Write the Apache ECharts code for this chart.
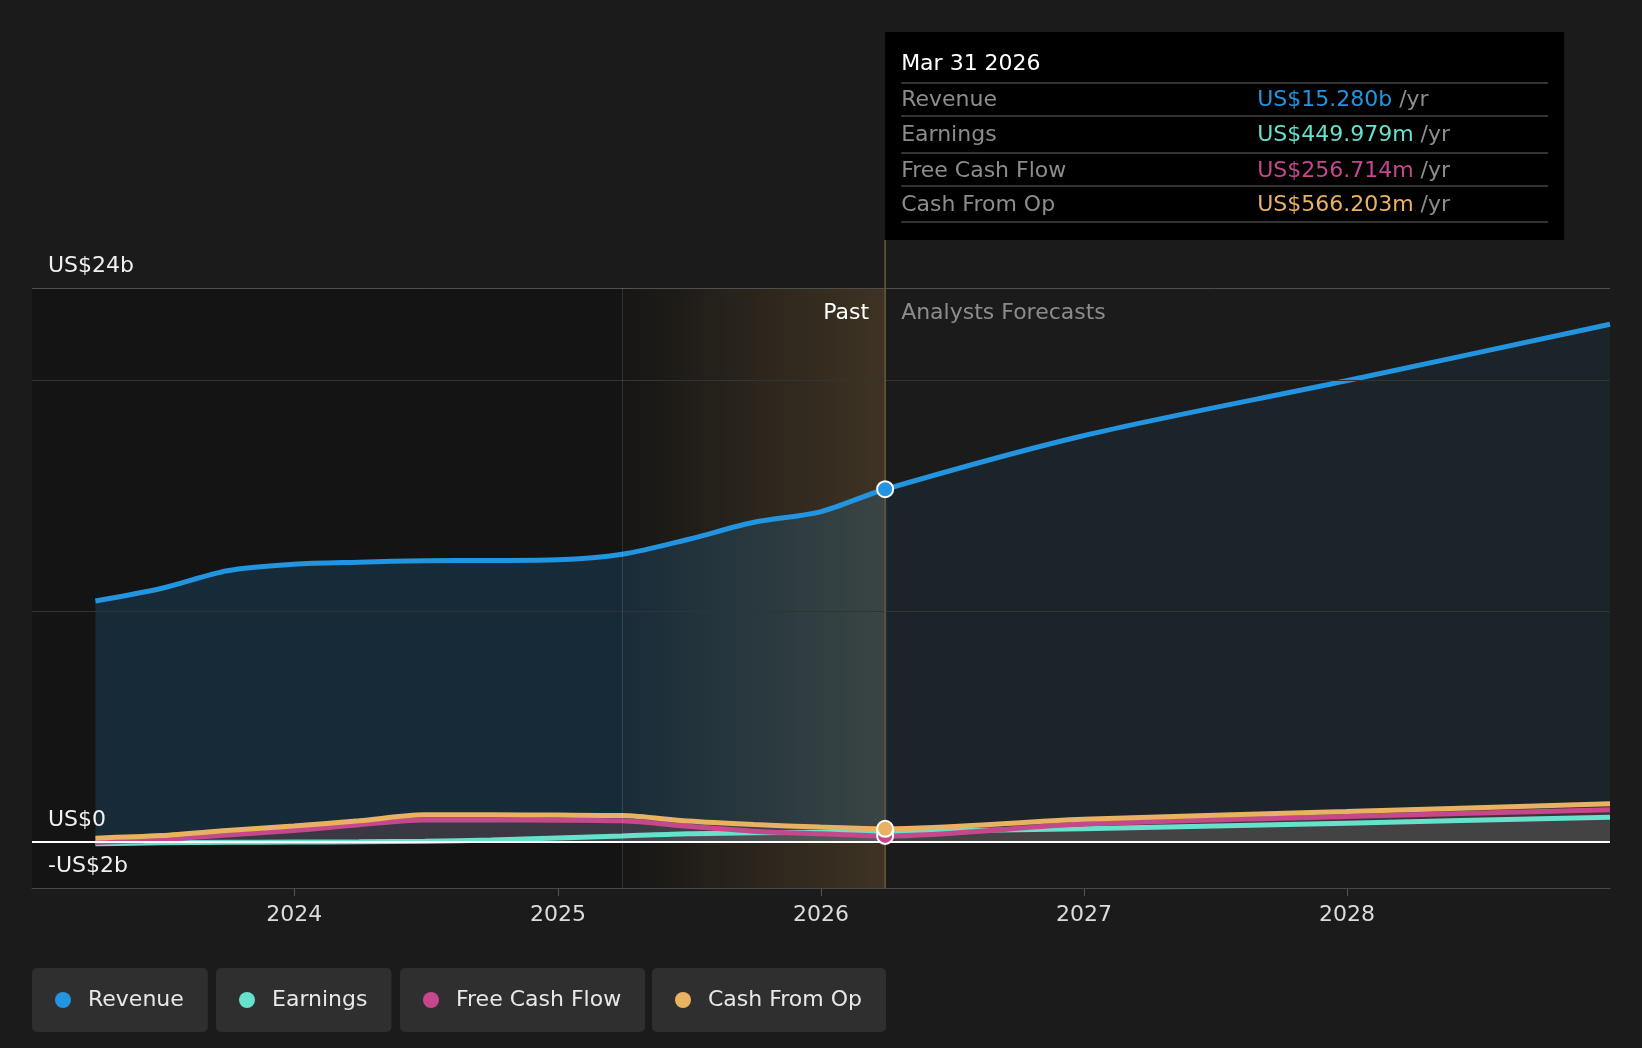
<!DOCTYPE html>
<html>
<head>
<meta charset="utf-8">
<script src="https://cdn.jsdelivr.net/npm/echarts@6/dist/echarts.min.js"></script>
<style>
  html, body { margin: 0; padding: 0; background: #1b1b1b; }
  #chart { width: 1642px; height: 1048px; }
</style>
</head>
<body>
<div id="chart"></div>
<script>
// quarter ends for the past, then yearly analyst forecasts
const dates = [
  '2023-03-31', '2023-06-30', '2023-09-30', '2023-12-31',
  '2024-03-31', '2024-06-30', '2024-09-30', '2024-12-31',
  '2025-03-31', '2025-06-30', '2025-09-30', '2025-12-31',
  '2026-03-31', '2026-12-31', '2027-12-31', '2028-12-31'
]
// values in US$ billions
const revenue = [10.44, 10.98, 11.75, 12.03, 12.12, 12.18, 12.19, 12.22, 12.46, 13.1, 13.85, 14.3, 15.28, 17.6, 19.98, 22.43]
const earnings = [-0.08, -0.04, -0.02, -0.01, 0.0, 0.03, 0.08, 0.17, 0.25, 0.35, 0.39, 0.42, 0.449979, 0.57, 0.81, 1.07]
const freeCashFlow = [-0.03, 0.09, 0.3, 0.49, 0.74, 0.95, 0.95, 0.94, 0.91, 0.68, 0.46, 0.35, 0.256714, 0.77, 1.1, 1.39]
const cashFromOp = [0.16, 0.27, 0.49, 0.69, 0.91, 1.17, 1.17, 1.16, 1.14, 0.9, 0.75, 0.64, 0.566203, 0.98, 1.31, 1.65]

const seriesNames = ['Revenue', 'Earnings', 'Free Cash Flow', 'Cash From Op']
const seriesColors = ['#2394df', '#67e0cc', '#c5488c', '#e9b262']

const yTickValues = [-2, 0, 24]
const yTickLabels = ['-US$2b', 'US$0', 'US$24b']

const lastReported = 12 // index of Mar 31 2026
const bandStart = '2025-03-31'
const axisStart = '2023-01-02'
const axisEnd = '2028-12-31'

const FONT = 'DejaVu Sans'
const MONTHS = ['Jan', 'Feb', 'Mar', 'Apr', 'May', 'Jun', 'Jul', 'Aug', 'Sep', 'Oct', 'Nov', 'Dec']

const ts = d => +new Date(d + 'T00:00:00Z')
const fmtMoney = v => v >= 1 ? 'US$' + v.toFixed(3) + 'b' : 'US$' + (v * 1000).toFixed(3) + 'm'
const fmtDate = d => {
  const [y, m, day] = d.split('-')
  return MONTHS[+m - 1] + ' ' + (+day) + ' ' + y
}

const allValues = [revenue, earnings, freeCashFlow, cashFromOp]
const pairs = arr => arr.map((v, i) => [ts(dates[i]), v])

const chart = echarts.init(document.getElementById('chart'))

// revenue fill is a bit stronger over the reported part
const split = (ts(dates[lastReported]) - ts(dates[0])) / (ts(dates[dates.length - 1]) - ts(dates[0]))
const revenueFill = new echarts.graphic.LinearGradient(0, 0, 1, 0, [
  { offset: 0, color: 'rgba(35,148,223,0.25)' },
  { offset: split, color: 'rgba(35,148,223,0.25)' },
  { offset: Math.min(split + 0.002, 1), color: 'rgba(35,148,223,0.11)' },
  { offset: 1, color: 'rgba(35,148,223,0.11)' }
])

const lineSeries = seriesNames.map((name, i) => ({
  name,
  type: 'line',
  data: pairs(allValues[i]),
  smooth: 0.3,
  symbol: 'none',
  z: 2,
  color: seriesColors[i],
  lineStyle: { width: 5, color: seriesColors[i] },
  areaStyle: i === 0
    ? { color: revenueFill, origin: 0 }
    : { color: echarts.color.modifyAlpha(seriesColors[i], 0.14), origin: 0 }
}))

const dotSeries = seriesNames.map((name, i) => ({
  name: name + ' dot',
  type: 'scatter',
  data: [[ts(dates[lastReported]), allValues[i][lastReported]]],
  symbolSize: 16,
  z: 10,
  silent: true,
  itemStyle: { color: seriesColors[i], borderColor: '#fff', borderWidth: 2, opacity: 1 }
}))

const legendLefts = [32, 216, 400, 652]
const legends = seriesNames.map((name, i) => ({
  data: [name],
  left: legendLefts[i],
  top: 968,
  icon: 'circle',
  itemWidth: 16,
  itemHeight: 16,
  itemGap: 0,
  padding: [21, 24, 21, 23],
  backgroundColor: '#2f2f2f',
  borderRadius: 5,
  selectedMode: false,
  textStyle: { color: '#e8e8e8', fontSize: 22, fontFamily: FONT, padding: [0, 0, 0, 12] }
}))

const splitColors = []
for (let v = -2; v <= 24; v += 2) {
  if (v === -2) splitColors.push('#484848')
  else if (v === 24) splitColors.push('#4f4f4f')
  else if (v === 10 || v === 20) splitColors.push('#333333')
  else splitColors.push('rgba(0,0,0,0)')
}

const option = {
  backgroundColor: '#1b1b1b',
  animation: false,
  textStyle: { fontFamily: FONT },
  grid: { left: 32, right: 32, top: 288, height: 600, containLabel: false },
  legend: legends,
  xAxis: {
    type: 'time',
    min: ts(axisStart),
    max: ts(axisEnd),
    minInterval: 365 * 24 * 3600 * 1000,
    maxInterval: 366 * 24 * 3600 * 1000,
    axisLine: { onZero: false, lineStyle: { color: '#484848', width: 1 } },
    axisTick: { show: true, length: 8, lineStyle: { color: '#555' } },
    splitLine: { show: false },
    axisLabel: {
      formatter: '{yyyy}',
      color: '#dcdcdc',
      fontSize: 22,
      fontFamily: FONT,
      margin: 16,
      showMinLabel: false,
      showMaxLabel: false
    }
  },
  yAxis: {
    type: 'value',
    min: -2,
    max: 24,
    interval: 2,
    z: 3,
    axisLine: { show: false },
    axisTick: { show: false },
    axisLabel: {
      inside: true,
      margin: 16,
      verticalAlign: 'bottom',
      padding: [0, 0, 11, 0],
      color: '#f0f0f0',
      fontSize: 22,
      fontFamily: FONT,
      formatter: v => {
        const k = yTickValues.indexOf(v)
        return k >= 0 ? yTickLabels[k] : ''
      }
    },
    splitLine: { show: true, lineStyle: { color: splitColors, width: 1 } }
  },
  series: [
    {
      // darker backdrop behind the reported period
      name: 'past',
      type: 'line',
      data: [[ts(bandStart), 0]],
      symbol: 'none',
      lineStyle: { width: 0 },
      silent: true,
      z: -1,
      markArea: {
        silent: true,
        itemStyle: { color: 'rgba(0,0,0,0.25)' },
        data: [[{ xAxis: ts(axisStart), yAxis: -2 }, { xAxis: ts(dates[lastReported]), yAxis: 24 }]]
      }
    },
    {
      // zero line, under the series
      name: 'zero',
      type: 'line',
      data: [[ts(bandStart), 0]],
      symbol: 'none',
      lineStyle: { width: 0 },
      silent: true,
      z: 1,
      markLine: {
        silent: true,
        symbol: 'none',
        label: { show: false },
        data: [{ yAxis: 0, lineStyle: { color: '#ffffff', width: 2, type: 'solid' } }]
      }
    },
    ...lineSeries,
    {
      // last reported year highlight
      name: 'band',
      type: 'line',
      data: [[ts(bandStart), 0]],
      symbol: 'none',
      lineStyle: { width: 0 },
      silent: true,
      z: 5,
      markArea: {
        silent: true,
        itemStyle: {
          color: new echarts.graphic.LinearGradient(0, 0, 1, 0, [
            { offset: 0, color: 'rgba(233,178,98,0.01)' },
            { offset: 1, color: 'rgba(233,178,98,0.2)' }
          ])
        },
        data: [[{ xAxis: ts(bandStart), yAxis: -2 }, { xAxis: ts(dates[lastReported]), yAxis: 24 }]]
      },
      markLine: {
        silent: true,
        symbol: 'none',
        label: { show: false },
        data: [
          { xAxis: ts(bandStart), lineStyle: { color: 'rgba(255,255,255,0.12)', width: 1, type: 'solid' } }
        ]
      }
    },
    ...dotSeries
  ]
}

chart.setOption(option)

// divider, section labels and the value box sit on the last reported date
const dividerX = chart.convertToPixel({ xAxisIndex: 0 }, ts(dates[lastReported]))
const topY = chart.convertToPixel({ yAxisIndex: 0 }, 24)
const bottomY = chart.convertToPixel({ yAxisIndex: 0 }, -2)

const boxTop = 32
const boxHeight = 208
const boxWidth = 679
const rowYs = [100, 135, 171, 205]
const sepYs = [83, 116, 153, 186, 222]

const boxElements = [
  { type: 'rect', shape: { x: dividerX, y: boxTop, width: boxWidth, height: boxHeight }, style: { fill: '#000' } },
  {
    type: 'text', x: dividerX + 16, y: 64,
    style: { text: fmtDate(dates[lastReported]), fill: '#ffffff', fontSize: 22, fontFamily: FONT, verticalAlign: 'middle' }
  }
]
sepYs.forEach(y => boxElements.push({
  type: 'line',
  shape: { x1: dividerX + 16, y1: y, x2: dividerX + boxWidth - 16, y2: y },
  style: { stroke: '#444', lineWidth: 1.5 }
}))
seriesNames.forEach((name, i) => {
  boxElements.push({
    type: 'text', x: dividerX + 16, y: rowYs[i],
    style: { text: name, fill: '#8c8c8c', fontSize: 22, fontFamily: FONT, verticalAlign: 'middle' }
  })
  boxElements.push({
    type: 'text', x: dividerX + 372, y: rowYs[i],
    style: {
      text: '{v|' + fmtMoney(allValues[i][lastReported]) + '} {u|/yr}',
      verticalAlign: 'middle',
      fontSize: 22,
      fontFamily: FONT,
      rich: {
        v: { fill: seriesColors[i], fontSize: 22, fontFamily: FONT },
        u: { fill: '#8c8c8c', fontSize: 22, fontFamily: FONT }
      }
    }
  })
})

chart.setOption({
  graphic: [
    {
      type: 'line',
      z: 8,
      shape: { x1: dividerX, y1: boxTop + boxHeight, x2: dividerX, y2: bottomY },
      style: { stroke: '#6b5a36', lineWidth: 1.5 },
      silent: true
    },
    {
      type: 'text', z: 20, x: dividerX - 16, y: topY + 25,
      style: { text: 'Past', fill: '#ffffff', fontSize: 22, fontFamily: FONT, align: 'right', verticalAlign: 'middle' }
    },
    {
      type: 'text', z: 20, x: dividerX + 16, y: topY + 25,
      style: { text: 'Analysts Forecasts', fill: '#8c8c8c', fontSize: 22, fontFamily: FONT, align: 'left', verticalAlign: 'middle' }
    },
    ...boxElements.map(e => Object.assign({ z: 20 }, e))
  ]
})
</script>
</body>
</html>
